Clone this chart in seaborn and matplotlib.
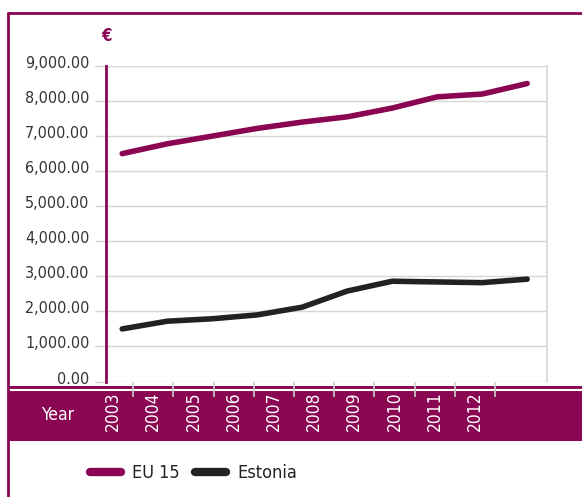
import numpy as np
import pandas as pd
import seaborn as sns
import matplotlib as mpl
import matplotlib.pyplot as plt
import matplotlib.transforms as mtransforms
from matplotlib.lines import Line2D

years = ['2003', '2004', '2005', '2006', '2007', '2008', '2009', '2010', '2011', '2012']
eu15 = [6500, 6780, 7000, 7220, 7400, 7550, 7800, 8120, 8200, 8500]
estonia = [1500, 1720, 1790, 1900, 2120, 2580, 2860, 2840, 2820, 2920]
series = ['EU 15', 'Estonia']
yticks = [0, 1000, 2000, 3000, 4000, 5000, 6000, 7000, 8000, 9000]

MAROON = '#8a0552'
DARK = '#222222'
GRID = '#d6d6d6'
W, H = 582, 497

sns.set_theme(style='white')
mpl.rcParams['font.family'] = ['DejaVu Sans']
mpl.rcParams['font.stretch'] = 'condensed'

df = pd.DataFrame({
    'x': list(range(len(years))) * 2,
    'value': eu15 + estonia,
    'series': [series[0]] * len(years) + [series[1]] * len(years),
})

fig = plt.figure(figsize=(W / 100, H / 100), dpi=100)


def box(x0, y0, x1, y1):
    # pixel box (top-left origin) -> figure fraction rect
    return [x0 / W, 1 - y1 / H, (x1 - x0) / W, (y1 - y0) / H]


# maroon band behind the x labels
band = fig.add_axes(box(8, 386, W, 441))
band.set_facecolor(MAROON)
band.set_xticks([])
band.set_yticks([])
for s in band.spines.values():
    s.set_visible(False)
band.axhline(0.93, color='white', lw=1.5)
band.text(50 / (W - 8), 0.47, 'Year', color='white', fontsize=12.5,
          ha='center', va='center', transform=band.transAxes)

# main plot
ax = fig.add_axes(box(106, 66, 547, 381.5))
sns.lineplot(data=df, x='x', y='value', hue='series', palette=[MAROON, DARK],
             lw=4, ax=ax, legend=False, solid_capstyle='round', zorder=5)
ax.set_xlim(-0.36, 9.44)
ax.set_ylim(0, 9000)
ax.set_yticks(yticks)
ax.set_yticklabels(['{:,.2f}'.format(v) for v in yticks])
ax.yaxis.grid(True, color=GRID, lw=1)
ax.set_xticks([])
ax.set_xlabel('')
ax.set_ylabel('')
ax.tick_params(axis='y', length=8, width=1, color=GRID, pad=4,
               labelsize=11.5, labelcolor='#333333', left=True)
# labels sit slightly above their gridline
shift = mtransforms.ScaledTranslation(0, 4 / 100, fig.dpi_scale_trans)
for lab in ax.get_yticklabels():
    lab.set_transform(lab.get_transform() + shift)
ax.spines['top'].set_visible(False)
ax.spines['bottom'].set_visible(False)
ax.spines['right'].set_color(GRID)
ax.spines['right'].set_linewidth(1.2)
ax.spines['left'].set_color(MAROON)
ax.spines['left'].set_linewidth(2)
ax.spines['left'].set_zorder(6)
ax.text(0, 1.095, '€', color=MAROON, fontsize=12, fontweight='bold',
        ha='center', va='center', transform=ax.transAxes)

# category axis (ticks between years, labels inside the band)
cat = fig.add_axes(box(93, 382, 495, 441))
cat.patch.set_visible(False)
for s in cat.spines.values():
    s.set_visible(False)
cat.set_xlim(-0.5, len(years) - 0.5)
cat.set_ylim(0, 1)
cat.set_yticks([])
cat.xaxis.tick_top()
cat.set_xticks(np.arange(len(years)) + 0.5)
cat.set_xticklabels([])
cat.tick_params(axis='x', direction='in', length=11, width=1.2, color='#cfcfcf')
for i, y in enumerate(years):
    cat.text(i, 0.5, y, color='white', fontsize=12.5, rotation=90,
             ha='center', va='center')

# legend
handles = [Line2D([], [], color=MAROON, lw=6, solid_capstyle='round'),
           Line2D([], [], color=DARK, lw=6, solid_capstyle='round')]
fig.legend(handles, series, loc='center left', bbox_to_anchor=(90 / W, 1 - 473 / H),
           ncol=2, frameon=False, fontsize=13, handlelength=1.7, handletextpad=0.6,
           columnspacing=0.9, borderpad=0, borderaxespad=0, labelcolor=DARK)

# outer frame
fig.add_artist(Line2D([8 / W, 8 / W], [0, 1 - 13 / H], color=MAROON, lw=2))
fig.add_artist(Line2D([8 / W, 1], [1 - 13 / H, 1 - 13 / H], color=MAROON, lw=2))

fig.savefig('out.png', dpi=100)
